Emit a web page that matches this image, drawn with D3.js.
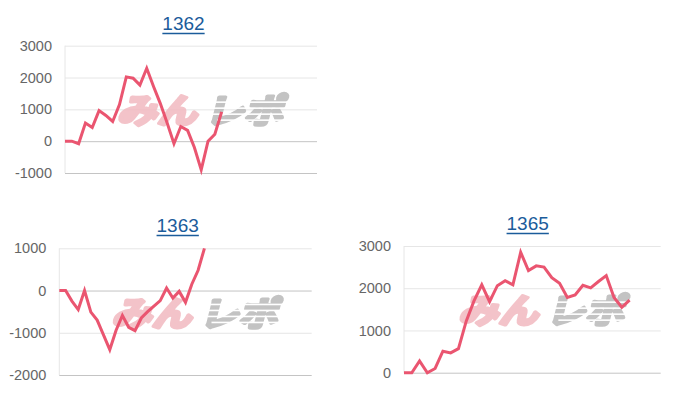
<!DOCTYPE html>
<html>
<head>
<meta charset="utf-8">
<script src="https://cdn.jsdelivr.net/npm/d3@7"></script>
<style>
  body { margin: 0; background: #fff; }
  svg { display: block; }
</style>
</head>
<body>
<div id="chart"></div>
<script>
// chart data
let TITLES = ["1362", "1363", "1365"];
let SLOTS = [38, 41, 34];
let VALUES_1362 = [0, 0, -80, 570, 430, 960, 810, 620, 1150, 2020, 1980, 1760, 2290, 1720, 1180, 570, -80, 460, 340, -200, -900, 0, 220, 920];
let VALUES_1363 = [0, 0, -250, -450, 0, -510, -700, -1050, -1400, -940, -590, -870, -950, -650, -500, -370, -240, 60, -180, -20, -280, 150, 480, 1000];
let VALUES_1365 = [0, 0, 280, 0, 100, 510, 470, 570, 1220, 1700, 2080, 1680, 2060, 2180, 2080, 2850, 2420, 2530, 2500, 2250, 2120, 1780, 1840, 2070, 2010, 2160, 2300, 1780, 1550, 1720];
let TICKS_1362 = [-1000, 0, 1000, 2000, 3000];
let TICKS_1363 = [-2000, -1000, 0, 1000];
let TICKS_1365 = [0, 1000, 2000, 3000];

let FRAME_WIDTH = 700;
let FRAME_HEIGHT = 400;
let LINE_COLOR = "#ea5570";
let FONT = "'Liberation Sans', Arial, sans-serif";

let FRAME = d3.select("#chart")
              .append("svg")
              .attr("width", FRAME_WIDTH)
              .attr("height", FRAME_HEIGHT);

// stripes for the watermark
let defs = FRAME.append("defs");

// panel layout
let PANELS = [
  {title: TITLES[0], values: VALUES_1362, ticks: TICKS_1362, slots: SLOTS[0],
   left: 65, right: 317, top: 45.7, bottom: 173, titleX: 183.5, titleY: 30},
  {title: TITLES[1], values: VALUES_1363, ticks: TICKS_1363, slots: SLOTS[1],
   left: 59.3, right: 311.7, top: 248.3, bottom: 375, titleX: 177.7, titleY: 232},
  {title: TITLES[2], values: VALUES_1365, ticks: TICKS_1365, slots: SLOTS[2],
   left: 404, right: 660.7, top: 246, bottom: 372.7, titleX: 527.7, titleY: 230}
];

PANELS.forEach((p, i) => {
  let g = FRAME.append("g");

  const X_SCALE = d3.scaleLinear()
                    .domain([0, p.slots - 1])
                    .range([p.left, p.right]);
  const Y_SCALE = d3.scaleLinear()
                    .domain(d3.extent(p.ticks))
                    .range([p.bottom, p.top]);

  // title (looks like a link)
  let t = g.append("text")
    .attr("x", p.titleX)
    .attr("y", p.titleY)
    .attr("text-anchor", "middle")
    .attr("font-family", FONT)
    .attr("font-size", "19px")
    .attr("fill", "#1b5c9b")
    .text(p.title);
  let tw = t.node().getComputedTextLength();
  g.append("line")
    .attr("x1", p.titleX - tw / 2).attr("x2", p.titleX + tw / 2)
    .attr("y1", p.titleY + 3.5).attr("y2", p.titleY + 3.5)
    .attr("stroke", "#1b5c9b")
    .attr("stroke-width", 1.3);

  // y axis with gridlines
  let yAxis = g.append("g")
    .attr("transform", "translate(" + p.left + ",0)")
    .call(d3.axisLeft(Y_SCALE)
            .tickValues(p.ticks)
            .tickSize(-(p.right - p.left))
            .tickPadding(13)
            .tickFormat((d) => String(d)));
  yAxis.select(".domain").remove();
  yAxis.selectAll(".tick line")
    .attr("stroke", (d) => (d === 0 || d === p.ticks[0]) ? "#c4c4c4" : "#e6e6e6");
  yAxis.selectAll(".tick text")
    .attr("font-family", FONT)
    .attr("font-size", "14.5px")
    .attr("fill", "#666");

  // left border
  g.append("line")
    .attr("x1", p.left).attr("x2", p.left)
    .attr("y1", p.top).attr("y2", p.bottom)
    .attr("stroke", "#e6e6e6");

  // watermark
  let wx = (p.left + p.right) / 2 - 74;
  let wy = (p.top + p.bottom) / 2 + 14;
  let mask = defs.append("mask").attr("id", "stripes" + i);
  mask.append("rect")
    .attr("x", wx - 10).attr("y", wy - 40)
    .attr("width", 200).attr("height", 60)
    .attr("fill", "#fff");
  [-22, -16, -10, -4].forEach((dy, k) => {
    mask.append("rect")
      .attr("x", wx + 88 + k * 4).attr("y", wy + dy)
      .attr("width", 110).attr("height", 1.6)
      .attr("fill", "#000");
  });
  let wm = g.append("g")
    .attr("mask", "url(#stripes" + i + ")")
    .attr("opacity", 0.85);
  [["みん", 0, 80, "#f2b9c0"], ["レポ", 88, 78, "#b9b9b9"]].forEach((w) => {
    wm.append("text")
      .attr("x", wx + w[1]).attr("y", wy)
      .attr("transform", "skewX(-14)")
      .attr("transform-origin", wx + " " + wy)
      .attr("font-family", "'Noto Sans CJK JP', sans-serif")
      .attr("font-weight", "bold")
      .attr("font-size", "34px")
      .attr("textLength", w[2])
      .attr("lengthAdjust", "spacingAndGlyphs")
      .attr("fill", w[3])
      .attr("stroke", w[3])
      .attr("stroke-width", 3.5)
      .attr("stroke-linejoin", "round")
      .text(w[0]);
  });

  // the line
  let line = d3.line()
    .x((d, j) => X_SCALE(j))
    .y((d) => Y_SCALE(d));
  g.append("path")
    .datum(p.values)
    .attr("d", line)
    .attr("fill", "none")
    .attr("stroke", LINE_COLOR)
    .attr("stroke-width", 3)
    .attr("stroke-linejoin", "miter");
});
</script>
</body>
</html>
